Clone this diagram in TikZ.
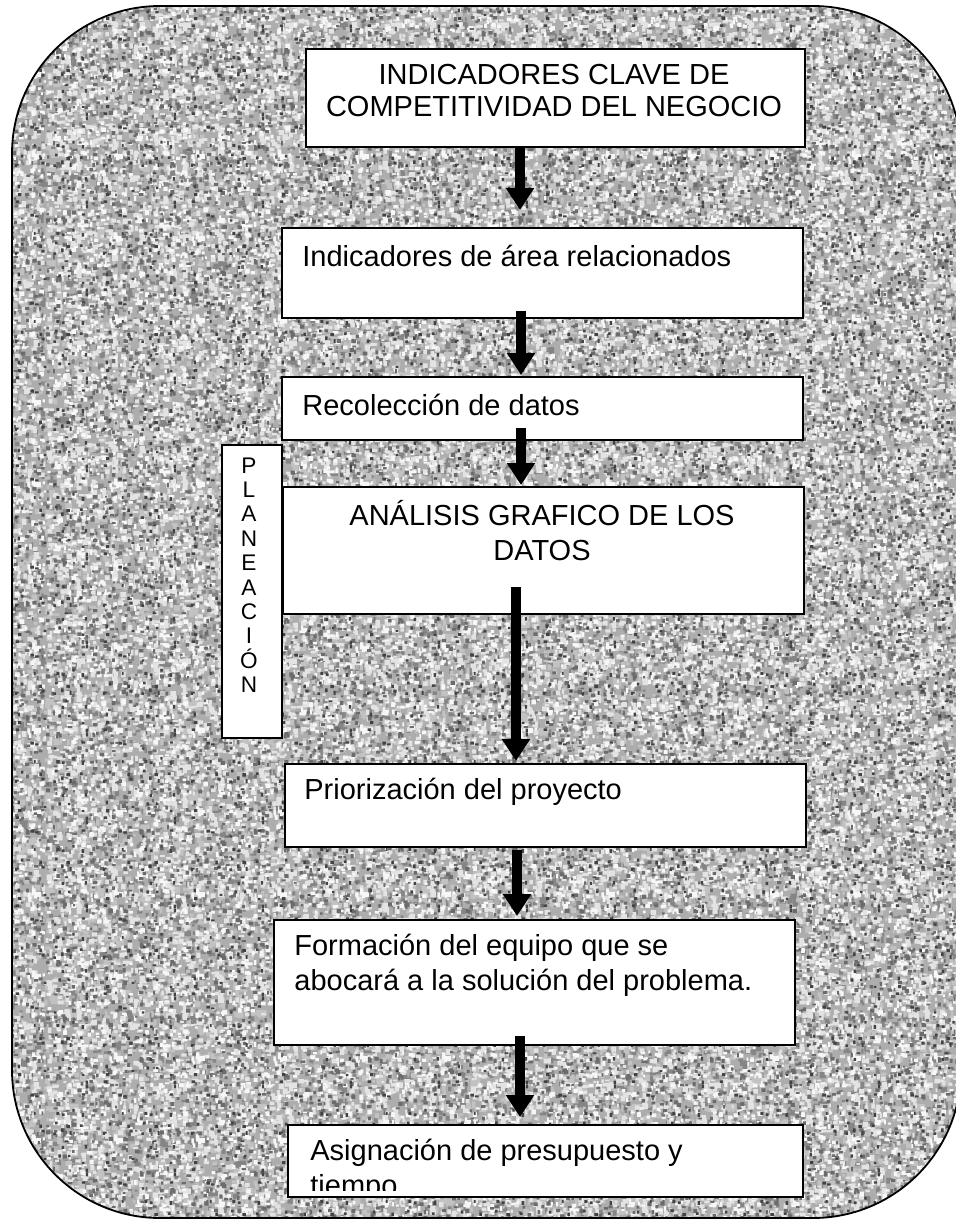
\documentclass[tikz,border=0pt]{standalone}
\usepackage{fontspec}
\setmainfont{Liberation Sans}
\usetikzlibrary{arrows.meta}

% ---- speckled stone texture: one square tile per shade layer ----
% specks may run past the tile edge; neighbouring tiles are identical, so they wrap
\newcount\speckcount
\newcommand\speckles[4]{% #1 = how many, #2 = black percentage, #3 = size spread, #4 = tile side (pt)
  \pgfsetfillcolor{black!#2}%
  \speckcount=0
  \loop
    \pgfmathsetmacro\spx{rnd*#4}%
    \pgfmathsetmacro\spw{0.9+rnd*#3}%
    \pgfmathsetmacro\spy{rnd*#4}%
    \pgfmathsetmacro\sph{0.9+rnd*#3}%
    \pgfpathrectangle{\pgfpoint{\spx pt}{\spy pt}}{\pgfpoint{\spw pt}{\sph pt}}%
    \advance\speckcount by 1
  \ifnum\speckcount<#1 \repeat
  \pgfusepath{fill}%
}
\newcommand\makelayer[5]{% #1 = box, then the four \speckles arguments
  \sbox#1{\pgfpicture
    \pgfpathrectangle{\pgfpointorigin}{\pgfpoint{#5pt}{#5pt}}%
    \pgfusepath{use as bounding box}%
    \speckles{#2}{#3}{#4}{#5}%
  \endpgfpicture}}
\newsavebox\layerA \newsavebox\layerB \newsavebox\layerC
\newsavebox\layerD \newsavebox\layerE \newsavebox\layerF

\tikzset{
  stepbox/.style={draw=black, line width=0.8pt, fill=white, rectangle,
                  inner sep=0pt, anchor=north west},
  steptext/.style={inner sep=0pt, font=\fontsize{14.5pt}{17.5pt}\selectfont},
  sidetext/.style={inner sep=0pt, anchor=base, font=\fontsize{11.3pt}{12pt}\selectfont},
  flowarrow/.style={line width=5pt, -{Triangle[length=11pt,width=13.5pt]}}
}

\begin{document}
\pgfmathsetseed{31415}
% tile sides differ per layer so that no common repeat shows
\makelayer\layerA{240}{48}{2.3}{60}%
\makelayer\layerB{160}{24}{2.4}{47}%
\makelayer\layerC{235}{11}{2.0}{53}%
\makelayer\layerD{95}{3}{1.5}{41}%
\makelayer\layerE{115}{58}{1.3}{57}%
\makelayer\layerF{32}{74}{1.0}{44}%
\begin{tikzpicture}[x=0.5pt, y=-0.5pt]
  \useasboundingbox (0,0) rectangle (955,1220);

  % textured background panel
  \begin{scope}
    \clip[rounded corners=74pt] (12,6) rectangle (961,1218);
    \fill[black!32] (12,6) rectangle (961,1218);
    \foreach \lay/\side/\off in {\layerA/60/0,\layerB/47/17,\layerC/53/35,
                                 \layerD/41/9,\layerE/57/26,\layerF/44/13}{
      \pgfmathtruncatemacro\ncol{950/(2*\side)+1}
      \pgfmathtruncatemacro\nrow{1212/(2*\side)+1}
      \foreach \c in {-1,...,\ncol}
        \foreach \r in {-1,...,\nrow}
          \pgftext[left,top,at={\pgfpointxy{12-\off+2*\side*\c}{6-\off+2*\side*\r}}]{\usebox{\lay}};
    }
  \end{scope}
  \draw[line width=0.9pt, rounded corners=74pt] (12,6) rectangle (961,1218);

  % process boxes
  \node[stepbox, minimum width=499*0.5pt, minimum height=98*0.5pt]  (b1) at (305,48)  {};
  \node[stepbox, minimum width=521*0.5pt, minimum height=90*0.5pt]  (b2) at (281,227) {};
  \node[stepbox, minimum width=521*0.5pt, minimum height=63*0.5pt]  (b3) at (281,376) {};
  \node[stepbox, minimum width=521*0.5pt, minimum height=127*0.5pt] (b4) at (282,486) {};
  \node[stepbox, minimum width=60*0.5pt,  minimum height=293*0.5pt] (plan) at (221,444) {};
  \node[stepbox, minimum width=521*0.5pt, minimum height=83*0.5pt]  (b5) at (284,763) {};
  \node[stepbox, minimum width=521*0.5pt, minimum height=125*0.5pt] (b6) at (273,919) {};
  \node[stepbox, minimum width=515*0.5pt, minimum height=72*0.5pt]  (b7) at (287,1124) {};

  % box texts
  \node[steptext, anchor=base] (t1a) at (554,85)  {INDICADORES CLAVE DE};
  \node[steptext, anchor=base] (t1b) at (554,117) {COMPETITIVIDAD DEL NEGOCIO};
  \node[steptext, anchor=base west] (t2) at (302,266) {Indicadores de área relacionados};
  \node[steptext, anchor=base west] (t3) at (302,415) {Recolección de datos};
  \node[steptext, anchor=base] (t4a) at (542,525) {ANÁLISIS GRAFICO DE LOS};
  \node[steptext, anchor=base] (t4b) at (542,560) {DATOS};
  \node[steptext, anchor=base west] (t5) at (304,799) {Priorización del proyecto};
  \node[steptext, anchor=base west] (t6a) at (294,955) {Formación del equipo que se};
  \node[steptext, anchor=base west] (t6b) at (294,990) {abocará a la solución del problema.};
  \begin{scope}
    \clip (288,1125) rectangle (801,1190);
    \node[steptext, anchor=base west] (t7a) at (310,1160) {Asignación de presupuesto y};
    \node[steptext, anchor=base west] (t7b) at (310,1195) {tiempo};
  \end{scope}

  % vertical label
  \foreach \l [count=\i from 0] in {P,L,A,N,E,A,C,I,Ó,N}
    \node[sidetext] (p\i) at (249,473+24.4*\i) {\l};

  % connector ends
  \coordinate (s1) at (520,146);  \coordinate (e1) at (520,210);
  \coordinate (s2) at (521,311);  \coordinate (e2) at (521,375);
  \coordinate (s3) at (521,428);  \coordinate (e3) at (521,485);
  \coordinate (s4) at (516,587);  \coordinate (e4) at (516,761);
  \coordinate (s5) at (517,850);  \coordinate (e5) at (517,916);
  \coordinate (s6) at (520,1036); \coordinate (e6) at (520,1117);

  % flow arrows
  \draw[flowarrow] (s1) -- (e1);
  \draw[flowarrow] (s2) -- (e2);
  \draw[flowarrow] (s3) -- (e3);
  \draw[flowarrow] (s4) -- (e4);
  \draw[flowarrow] (s5) -- (e5);
  \draw[flowarrow] (s6) -- (e6);
\end{tikzpicture}
\end{document}
